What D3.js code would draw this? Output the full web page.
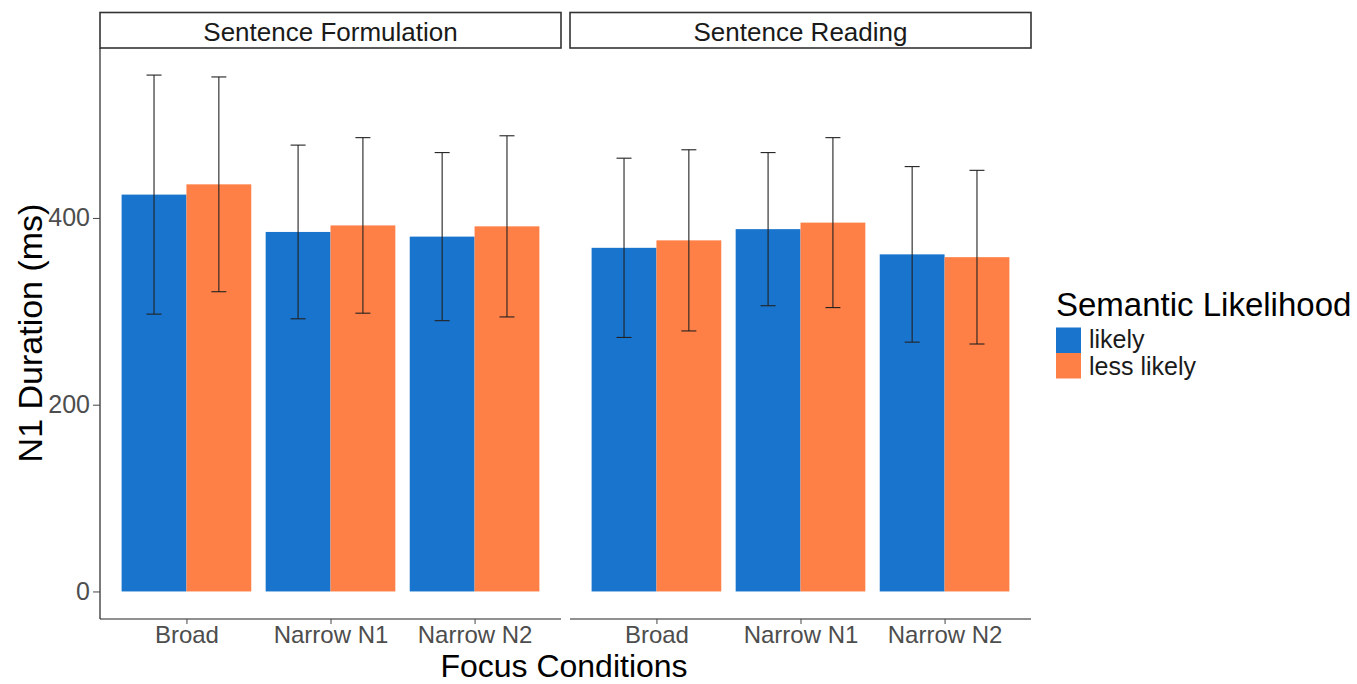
<!DOCTYPE html>
<html><head><meta charset="utf-8">
<script src="https://cdn.jsdelivr.net/npm/d3@7"></script>
<style>body{margin:0;background:#fff;} text{font-family:"Liberation Sans",Arial,sans-serif;}</style>
</head><body><svg id="c" width="1357" height="684"></svg>
<script>
const panels = ["Sentence Formulation", "Sentence Reading"];
const categories = ["Broad", "Narrow N1", "Narrow N2"];
const groups = ["likely", "less likely"];
// means: [panel][category] for each likelihood
const likelyMean = [[425, 385, 380], [368, 388, 361]];
const lessLikelyMean = [[436, 392, 391], [376, 395, 358]];
// error half-widths
const likelyErr = [[128, 93, 90], [96, 82, 94]];
const lessLikelyErr = [[115, 94, 97], [97, 91, 93]];
const yTicks = [0, 200, 400];
const colors = ["#1874CD", "#FF8046"];

const svg = d3.select("#c");
const plotTop = 48, plotBottom = 619;
const panelX = [[100, 561], [570, 1031]];
const y = d3.scaleLinear().domain([-29.5, 582]).range([plotBottom, plotTop]);

panels.forEach((p, pi) => {
  const [x0, x1] = panelX[pi];
  // ggplot discrete expansion: 0.6 units each side
  const unit = (x1 - x0) / 3.2;
  const xc = d3.scalePoint().domain(categories).range([x0 + 0.6 * unit, x1 - 0.6 * unit]);
  const barW = 0.9 * unit;
  const sub = d3.scaleBand().domain(groups).range([-barW / 2, barW / 2]);
  const g = svg.append("g");
  // strip
  g.append("rect").attr("x", x0).attr("y", 12.5).attr("width", x1 - x0).attr("height", 35.5)
    .attr("fill", "#fff").attr("stroke", "#333").attr("stroke-width", 1.6);
  g.append("text").attr("x", (x0 + x1) / 2).attr("y", 41).attr("text-anchor", "middle")
    .attr("font-size", 26).attr("fill", "#1a1a1a").text(p);
  const data = [];
  categories.forEach((c, ci) => {
    data.push({c, grp: "likely", m: likelyMean[pi][ci], e: likelyErr[pi][ci], col: colors[0]});
    data.push({c, grp: "less likely", m: lessLikelyMean[pi][ci], e: lessLikelyErr[pi][ci], col: colors[1]});
  });
  g.selectAll("rect.bar").data(data).enter().append("rect").attr("class", "bar")
    .attr("x", d => xc(d.c) + sub(d.grp)).attr("width", sub.bandwidth())
    .attr("y", d => y(d.m)).attr("height", d => y(0) - y(d.m)).attr("fill", d => d.col);
  const cap = 7.5;
  const eb = g.selectAll("g.eb").data(data).enter().append("g").attr("stroke", "#222").attr("stroke-width", 1.1);
  const cx = d => xc(d.c) + sub(d.grp) + sub.bandwidth() / 2;
  eb.append("line").attr("x1", cx).attr("x2", cx).attr("y1", d => y(d.m + d.e)).attr("y2", d => y(d.m - d.e));
  eb.append("line").attr("x1", d => cx(d) - cap).attr("x2", d => cx(d) + cap).attr("y1", d => y(d.m + d.e)).attr("y2", d => y(d.m + d.e));
  eb.append("line").attr("x1", d => cx(d) - cap).attr("x2", d => cx(d) + cap).attr("y1", d => y(d.m - d.e)).attr("y2", d => y(d.m - d.e));
  // x axis
  const ax = g.append("g").attr("transform", `translate(0,${plotBottom})`).call(d3.axisBottom(xc).tickSize(5).tickPadding(1.5));
  ax.select(".domain").attr("d", `M${x0},0H${x1}`).attr("stroke", "#222").attr("stroke-width", 1.2);
  ax.selectAll(".tick line").attr("stroke", "#444");
  ax.selectAll(".tick text").attr("font-size", 24).attr("fill", "#4d4d4d").attr("font-family", "Liberation Sans, Arial, sans-serif");
  if (pi === 0) {
    const ay = g.append("g").attr("transform", `translate(${x0},0)`).call(d3.axisLeft(y).tickValues(yTicks).tickSize(7).tickPadding(3));
    ay.select(".domain").attr("d", `M0,${plotTop}V${plotBottom}`).attr("stroke", "#222").attr("stroke-width", 1.2);
    ay.selectAll(".tick line").attr("stroke", "#444");
    ay.selectAll(".tick text").attr("font-size", 25).attr("fill", "#4d4d4d").attr("font-family", "Liberation Sans, Arial, sans-serif");
  }
});

svg.append("text").attr("transform", "translate(42,333) rotate(-90)").attr("text-anchor", "middle")
  .attr("font-size", 34).attr("fill", "#000").text("N1 Duration (ms)");
svg.append("text").attr("x", 564).attr("y", 677).attr("text-anchor", "middle")
  .attr("font-size", 32).attr("fill", "#000").text("Focus Conditions");

// legend
const lg = svg.append("g");
lg.append("text").attr("x", 1056).attr("y", 316).attr("font-size", 33).attr("fill", "#000").text("Semantic Likelihood");
groups.forEach((gname, i) => {
  lg.append("rect").attr("x", 1056).attr("y", 327.5 + i * 25.5).attr("width", 25).attr("height", 25.5).attr("fill", colors[i]);
  lg.append("text").attr("x", 1089).attr("y", 348 + i * 27).attr("font-size", 25).attr("fill", "#1a1a1a").text(gname);
});
</script></body></html>
